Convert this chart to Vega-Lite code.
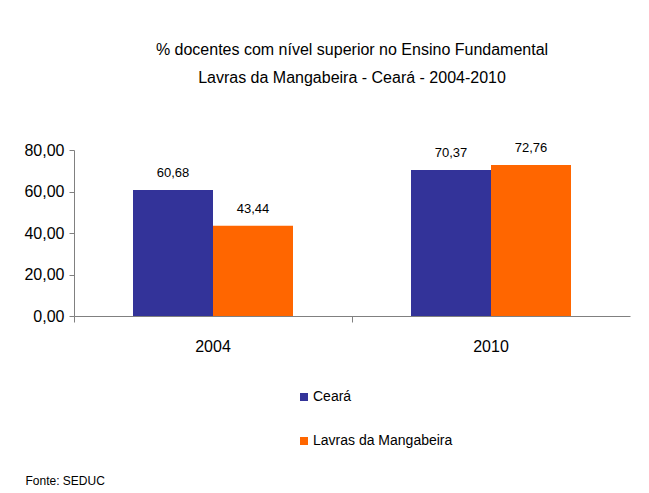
{
  "$schema": "https://vega.github.io/schema/vega-lite/v6.json",
  "autosize": {"type": "none"},
  "padding": {"left": 74, "top": 150, "right": 19, "bottom": 177},
  "width": 556,
  "height": 166,
  "background": "white",
  "title": {
    "text": ["% docentes com nível  superior no Ensino Fundamental", "Lavras da Mangabeira  -  Ceará - 2004-2010"],
    "font": "Liberation Sans",
    "fontSize": 16,
    "fontWeight": "normal",
    "color": "#000000",
    "lineHeight": 28,
    "anchor": "middle",
    "offset": 56
  },
  "data": {
    "values": [
      {"ano": "2004", "local": "Ceará", "valor": 60.68},
      {"ano": "2004", "local": "Lavras da Mangabeira", "valor": 43.44},
      {"ano": "2010", "local": "Ceará", "valor": 70.37},
      {"ano": "2010", "local": "Lavras da Mangabeira", "valor": 72.76}
    ]
  },
  "encoding": {
    "x": {
      "field": "ano",
      "type": "nominal",
      "scale": {"paddingInner": 0, "paddingOuter": 0},
      "axis": {
        "title": "Fonte: SEDUC",
        "titleX": -49,
        "titleY": 164,
        "titleAlign": "left",
        "titleBaseline": "middle",
        "titleFont": "Liberation Sans",
        "titleFontSize": 12,
        "titleFontWeight": "normal",
        "titleColor": "#000000",
        "labelAngle": 0,
        "labelFont": "Liberation Sans",
        "labelFontSize": 16,
        "labelColor": "#000000",
        "labelPadding": 16,
        "bandPosition": 0,
        "tickSize": 6,
        "tickColor": "#808080",
        "domainColor": "#808080",
        "grid": false
      }
    },
    "xOffset": {
      "field": "local",
      "type": "nominal",
      "scale": {"paddingInner": 0, "paddingOuter": 0.7375}
    },
    "y": {
      "field": "valor",
      "type": "quantitative",
      "scale": {"domain": [0, 80]},
      "axis": {
        "title": null,
        "values": [0, 20, 40, 60, 80],
        "format": ".2f",
        "labelFont": "Liberation Sans",
        "labelFontSize": 16,
        "labelColor": "#000000",
        "labelPadding": 5,
        "tickSize": 5,
        "tickColor": "#808080",
        "domainColor": "#808080",
        "grid": false
      }
    }
  },
  "layer": [
    {
      "mark": {"type": "bar"},
      "encoding": {
        "color": {
          "field": "local",
          "type": "nominal",
          "scale": {"domain": ["Ceará", "Lavras da Mangabeira"], "range": ["#333399", "#FF6600"]},
          "legend": {
            "title": null,
            "orient": "none",
            "legendX": 223,
            "legendY": 240,
            "direction": "vertical",
            "symbolType": "square",
            "symbolSize": 64,
            "symbolStrokeWidth": 0,
            "symbolOpacity": 1,
            "labelFont": "Liberation Sans",
            "labelFontSize": 14,
            "labelColor": "#000000",
            "labelOffset": 2,
            "rowPadding": 30
          }
        }
      }
    },
    {
      "mark": {"type": "text", "baseline": "bottom", "dy": -10, "font": "Liberation Sans", "fontSize": 13, "color": "#000000"},
      "encoding": {
        "text": {"field": "valor", "type": "quantitative", "format": ".2f"}
      }
    }
  ],
  "config": {
    "locale": {"number": {"decimal": ",", "thousands": ".", "grouping": [3], "currency": ["R$", ""]}},
    "view": {"stroke": null},
    "bar": {"stroke": null}
  }
}
